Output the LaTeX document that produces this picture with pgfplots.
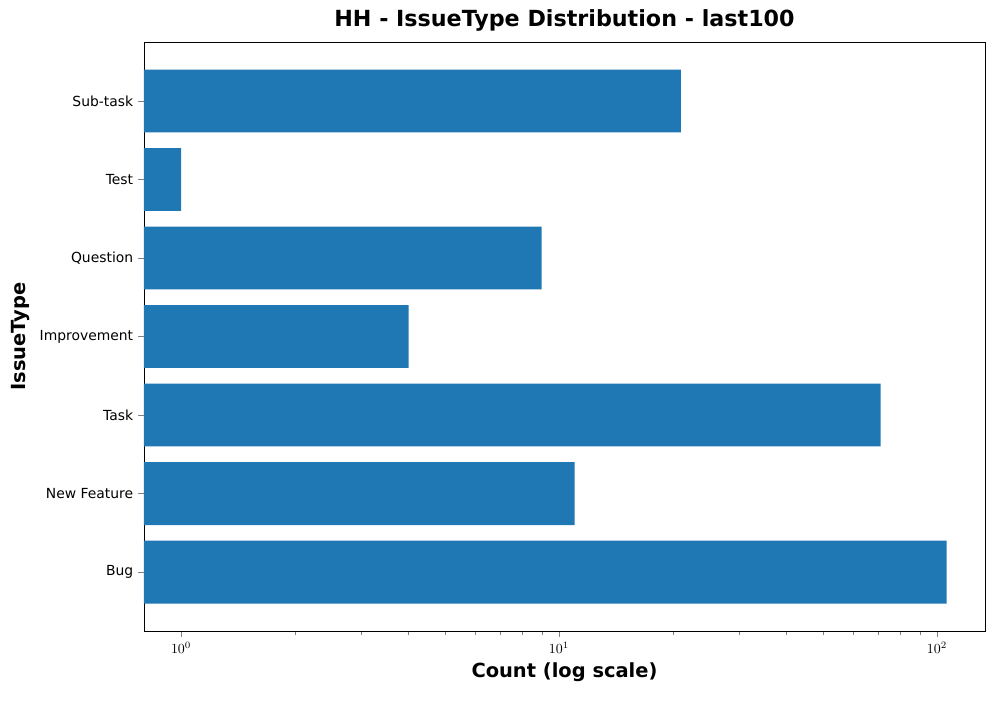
\documentclass[border=0pt]{standalone}
\usepackage{pgfplots}
\pgfplotsset{compat=1.18}
\usepackage{fontspec}
\setmainfont{DejaVu Sans}
\definecolor{mblue}{HTML}{1F77B4}
\begin{document}
\begin{tikzpicture}
\useasboundingbox (-103.68pt,-49.68pt) rectangle ++(720pt,504pt);
\begin{axis}[
  at={(0,0)}, anchor=south west,
  scale only axis, width=605.5pt, height=424pt,
  xmode=log, xmin=0.798, xmax=134, log origin=infty,
  ymin=-0.75, ymax=6.75,
  xbar, bar width=0.8, bar shift=0pt,
  ytick={0,...,6},
  yticklabels={Bug,New Feature,Task,Improvement,Question,Test,Sub-task},
  tick align=outside, tick pos=lower,
  ticklabel style={font=\fontsize{10}{12}\selectfont},
  xtick={1,10,100},
  title={\textbf{HH - IssueType Distribution - last100}},
  title style={font=\fontsize{16}{19}\selectfont, yshift=-2pt},
  xlabel={\textbf{Count (log scale)}},
  ylabel={\textbf{IssueType}},
  label style={font=\fontsize{14}{16}\selectfont},
]
\addplot[fill=mblue, draw=none] coordinates {
(106,0) (11,1) (71,2) (4,3) (9,4) (1,5) (21,6)};
\end{axis}
\end{tikzpicture}
\end{document}
